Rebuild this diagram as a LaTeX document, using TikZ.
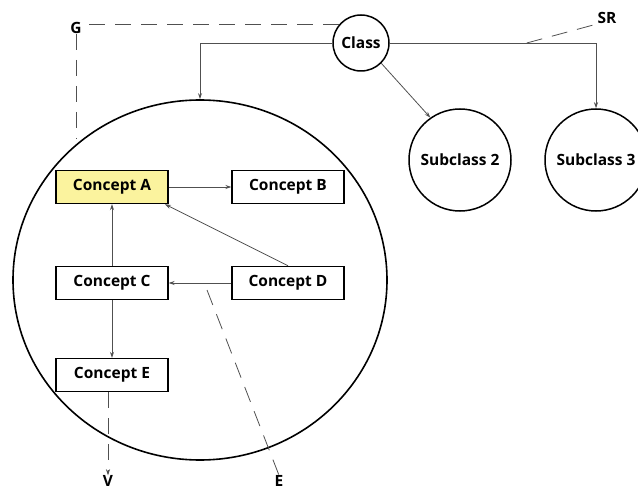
\documentclass[tikz,border=0pt]{standalone}
\usepackage{fontspec}
\setmainfont{Open Sans}
\usetikzlibrary{arrows.meta,shapes.geometric}
\definecolor{conceptyellow}{HTML}{FBF39E}
\definecolor{linegray}{HTML}{505050}
\begin{document}
\begin{tikzpicture}[x=1pt,y=-1pt,font=\fontsize{15.5}{18}\selectfont\bfseries] % class with its concepts
\tikzstyle{every node}+=[inner sep=0pt]
\tikzstyle{concept}=[draw,line width=1.4pt,minimum width=112pt,minimum height=33pt]
\tikzstyle{klass}=[draw,circle,line width=1.5pt]
\tikzstyle{link}=[linegray,line width=0.8pt,-{Stealth[length=6pt,width=4pt]}]
\tikzstyle{dashline}=[linegray,line width=0.8pt,dash pattern=on 16pt off 10pt]
\useasboundingbox (0,0) rectangle (638,492);
\node [draw,ellipse,line width=1.6pt,minimum width=374pt,minimum height=360pt] (bigc) at (200,280) {};
\node [klass,minimum size=56pt] (class) at (361,43) {Class};
\node [klass,minimum size=102pt] (sub2) at (460,160) {Subclass 2};
\node [klass,minimum size=102pt] (sub3) at (596,160) {Subclass 3};
\node [concept,fill=conceptyellow] (cA) at (112,187) {Concept A};
\node [concept] (cB) at (288,187) {Concept B};
\node [concept] (cC) at (112,283) {Concept C};
\node [concept] (cD) at (288,283) {Concept D};
\node [concept] (cE) at (112,375) {Concept E};
\node (G) at (76,28) {G};
\node (SR) at (607,18) {SR};
\node (V) at (108,481) {V};
\node (E) at (279,481) {E};
\draw [link] (class.west) -| (bigc.north);
\draw [link] (class.east) -| (sub3.north);
\draw [link] (class.-45) -- (sub2.125);
\draw [link] (cA) -- (cB);
\draw [link] (cD.north) -- (cA.-18);
\draw [link] (cC) -- (cA);
\draw [link] (cD) -- (cC);
\draw [link] (cC) -- (cE);
\coordinate (srfoot) at ([xshift=137pt]class.east);
\coordinate (efoot) at (207,290);
\draw [dashline] (class.140) -- (class.140 -| G.east);
\draw [dashline] (G.south) -- (G.south |- bigc.130);
\draw [dashline] (srfoot) -- (SR.south west);
\draw [dashline] (efoot) -- (E.north);
\draw [dashline,-{Stealth[length=6pt,width=4pt]}] (cE.south -| V.north) -- (V.north);
\end{tikzpicture}
\end{document}
